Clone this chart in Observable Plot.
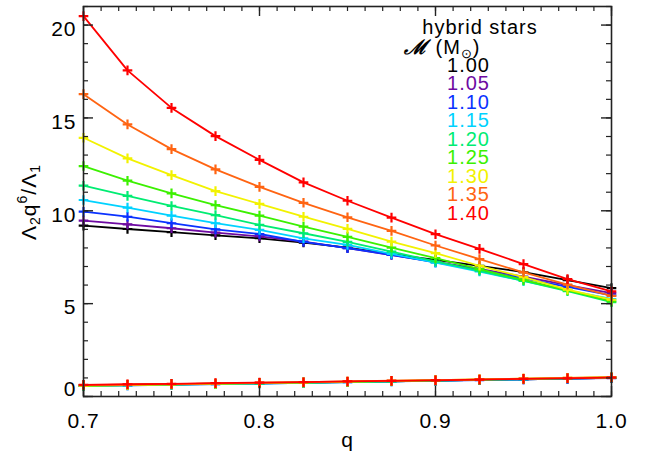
<!DOCTYPE html>
<html><head><meta charset="utf-8">
<script src="https://cdn.jsdelivr.net/npm/d3@7"></script>
<script src="https://cdn.jsdelivr.net/npm/@observablehq/plot@0.6"></script>
<style>
body{margin:0;background:#fff}
svg{display:block}
svg text{letter-spacing:1px}
</style>
</head><body><div id="chart"></div>
<script>
const qValues = [0.7, 0.725, 0.75, 0.775, 0.8, 0.825, 0.85, 0.875, 0.9, 0.925, 0.95, 0.975, 1.0];
const masses = ["1.00", "1.05", "1.10", "1.15", "1.20", "1.25", "1.30", "1.35", "1.40"];
const colors = ["#000000", "#6e0aa2", "#0a32ff", "#00d2ff", "#00ec72", "#3cf000", "#f2f200", "#ff6412", "#ff0000"];

// upper curves
const up100 = [9.20, 9.02, 8.85, 8.68, 8.52, 8.29, 8.02, 7.66, 7.36, 7.03, 6.70, 6.27, 5.84];
const up105 = [9.47, 9.27, 9.06, 8.82, 8.62, 8.34, 7.99, 7.62, 7.25, 6.87, 6.45, 6.00, 5.57];
const up110 = [9.95, 9.68, 9.33, 9.00, 8.75, 8.33, 7.99, 7.63, 7.22, 6.80, 6.36, 5.90, 5.45];
const up115 = [10.58, 10.17, 9.74, 9.33, 8.97, 8.52, 8.16, 7.68, 7.21, 6.73, 6.22, 5.72, 5.25];
const up120 = [11.35, 10.80, 10.26, 9.77, 9.24, 8.79, 8.33, 7.80, 7.27, 6.77, 6.23, 5.67, 5.08];
const up125 = [12.41, 11.62, 10.94, 10.31, 9.74, 9.15, 8.60, 8.02, 7.45, 6.86, 6.28, 5.71, 5.12];
const up130 = [13.93, 12.82, 11.92, 11.06, 10.37, 9.68, 9.03, 8.34, 7.72, 7.04, 6.43, 5.75, 5.21];
const up135 = [16.28, 14.65, 13.32, 12.23, 11.29, 10.43, 9.65, 8.92, 8.13, 7.40, 6.68, 6.02, 5.42];
const up140 = [20.48, 17.56, 15.54, 14.02, 12.74, 11.53, 10.54, 9.63, 8.74, 7.95, 7.13, 6.32, 5.66];

// lower curves
const lo100 = [0.60, 0.63, 0.66, 0.69, 0.72, 0.75, 0.79, 0.82, 0.86, 0.89, 0.93, 0.96, 1.00];
const lo105 = [0.59, 0.62, 0.65, 0.68, 0.71, 0.75, 0.78, 0.82, 0.85, 0.89, 0.92, 0.96, 0.99];
const lo110 = [0.57, 0.60, 0.63, 0.67, 0.70, 0.73, 0.77, 0.81, 0.84, 0.88, 0.92, 0.96, 1.00];
const lo115 = [0.57, 0.60, 0.64, 0.67, 0.70, 0.74, 0.77, 0.81, 0.85, 0.89, 0.93, 0.97, 1.01];
const lo120 = [0.58, 0.61, 0.64, 0.68, 0.71, 0.75, 0.78, 0.82, 0.86, 0.90, 0.94, 0.98, 1.02];
const lo125 = [0.58, 0.62, 0.65, 0.68, 0.72, 0.75, 0.79, 0.83, 0.87, 0.91, 0.95, 0.99, 1.03];
const lo130 = [0.59, 0.62, 0.66, 0.69, 0.73, 0.76, 0.80, 0.84, 0.88, 0.92, 0.96, 1.00, 1.04];
const lo135 = [0.61, 0.64, 0.67, 0.71, 0.74, 0.77, 0.81, 0.85, 0.88, 0.92, 0.96, 1.00, 1.04];
const lo140 = [0.63, 0.66, 0.68, 0.72, 0.75, 0.77, 0.81, 0.84, 0.87, 0.91, 0.95, 0.98, 1.02];

const xTickLabels = [0.7, 0.8, 0.9, 1.0];
const yTickLabels = [0, 5, 10, 15, 20];
const legendTitle = "hybrid stars";

const upperSeries = [up100, up105, up110, up115, up120, up125, up130, up135, up140];
const lowerSeries = [lo100, lo105, lo110, lo115, lo120, lo125, lo130, lo135, lo140];

const W = 647, H = 460;
const mL = 83, mR = 36, mT = 6, mB = 64;
const pw = W - mL - mR, ph = H - mT - mB;
const font = "Liberation Sans, Arial, sans-serif";
const axisColor = "#222";

const rows = (vals, m) => vals.map((v, i) => ({q: qValues[i], v, m}));

const marks = [];
masses.forEach((m, k) => {
  for (const arr of [lowerSeries[k], upperSeries[k]]) {
    const d = rows(arr, m);
    marks.push(Plot.line(d, {x: "q", y: "v", stroke: colors[k], strokeWidth: 1.8}));
    marks.push(Plot.dot(d, {x: "q", y: "v", symbol: "plus", r: 3.2, stroke: colors[k], strokeWidth: 2.2}));
  }
});

const xMinor = d3.ticks(0.7, 1.0, 30);
const yMinor = d3.range(0, 22);

const plot = Plot.plot({
  width: W, height: H,
  marginLeft: mL, marginRight: mR, marginTop: mT, marginBottom: mB,
  style: {fontFamily: font, fontSize: "21px", background: "#fff", color: "#000"},
  x: {domain: [0.7, 1.0]},
  y: {domain: [0, 21]},
  marks: [
    ...marks,
    // ticks (inward, all four sides)
    Plot.tickX(xMinor, {x: d => d, insetTop: ph - 5, stroke: axisColor, strokeWidth: 1.2}),
    Plot.tickX(xMinor, {x: d => d, insetBottom: ph - 5, stroke: axisColor, strokeWidth: 1.2}),
    Plot.tickX(xTickLabels, {x: d => d, insetTop: ph - 10, stroke: axisColor, strokeWidth: 1.4}),
    Plot.tickX(xTickLabels, {x: d => d, insetBottom: ph - 10, stroke: axisColor, strokeWidth: 1.4}),
    Plot.tickY(yMinor, {y: d => d, insetRight: pw - 5, stroke: axisColor, strokeWidth: 1.2}),
    Plot.tickY(yMinor, {y: d => d, insetLeft: pw - 5, stroke: axisColor, strokeWidth: 1.2}),
    Plot.tickY(yTickLabels, {y: d => d, insetRight: pw - 10, stroke: axisColor, strokeWidth: 1.4}),
    Plot.tickY(yTickLabels, {y: d => d, insetLeft: pw - 10, stroke: axisColor, strokeWidth: 1.4}),
    Plot.frame({stroke: axisColor, strokeWidth: 1.6}),
    Plot.axisX(xTickLabels, {tickSize: 0, tickPadding: 17, fontSize: 21, tickFormat: d3.format(".1f"), label: null}),
    Plot.axisY(yTickLabels.filter(d => d > 0), {tickSize: 0, tickPadding: 7, fontSize: 21, dy: 4, label: null}),
    Plot.axisY(yTickLabels.filter(d => d === 0), {tickSize: 0, tickPadding: 7, fontSize: 21, dy: -7, label: null}),
    Plot.text(["q"], {frameAnchor: "bottom", dy: 50, fontSize: 21, fill: "#000"})
  ]
});

document.getElementById("chart").appendChild(plot);

const svg = d3.select(plot);
// y-axis title  Λ2 q6 / Λ1
const yt = svg.append("text")
  .attr("transform", "translate(36,202) rotate(-90)")
  .attr("text-anchor", "middle")
  .attr("font-family", font).attr("font-size", 21).attr("fill", "#000");
yt.append("tspan").text("Λ");
yt.append("tspan").attr("font-size", 14).attr("dy", 4).text("2");
yt.append("tspan").attr("dy", -4).text("q");
yt.append("tspan").attr("font-size", 14).attr("dy", -9).text("6");
yt.append("tspan").attr("dy", 9).text("/Λ");
yt.append("tspan").attr("font-size", 14).attr("dy", 4).text("1");

// legend
const lg = svg.append("g").attr("font-family", font).attr("font-size", 20).style("letter-spacing", "1.5px");
lg.append("text").attr("x", 480).attr("y", 34).attr("text-anchor", "middle").attr("fill", "#000").text(legendTitle);
const hdr = lg.append("text").attr("x", 442).attr("y", 54).attr("fill", "#000");
hdr.append("tspan").attr("font-weight", "bold").attr("font-style", "italic").attr("font-family", "DejaVu Serif").text("ℳ");
hdr.append("tspan").attr("dx", 8).text("(M");
hdr.append("tspan").attr("font-size", 13).attr("dy", 4).text("⊙");
hdr.append("tspan").attr("dy", -4).text(")");
masses.forEach((m, i) => {
  lg.append("text").attr("x", 490).attr("y", 71.5 + i * 18.5).attr("text-anchor", "end")
    .attr("fill", colors[i]).text(m);
});
</script>
</body></html>
